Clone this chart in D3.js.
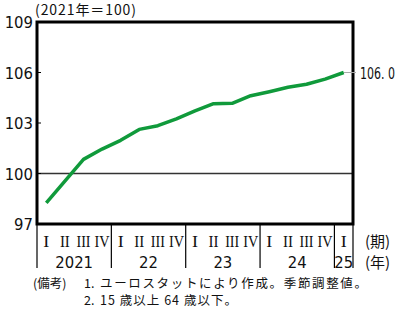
<!DOCTYPE html>
<meta charset="utf-8">
<style>
body { margin: 0; background: #fff; }
svg text { fill: #111; }
.num { font-family: "Liberation Sans Narrow", "DejaVu Sans Condensed", "DejaVu Sans", sans-serif; font-stretch: condensed; font-size: 16.5px; }
.roman { font-family: "Liberation Serif", serif; font-size: 16.5px; }
.jp { font-family: "Noto Sans CJK JP", sans-serif; font-size: 12.5px; }
</style>
<body>
<div id="chart"></div>
<script src="https://cdn.jsdelivr.net/npm/d3@7"></script>
<script>
// Employment index, quarterly, 2021 = 100
var quarters = ["2021Q1","2021Q2","2021Q3","2021Q4","2022Q1","2022Q2","2022Q3","2022Q4",
                "2023Q1","2023Q2","2023Q3","2023Q4","2024Q1","2024Q2","2024Q3","2024Q4","2025Q1"];
var values = [98.26, 99.55, 100.84, 101.45, 101.97, 102.62, 102.84, 103.25,
              103.72, 104.15, 104.17, 104.62, 104.86, 105.12, 105.3, 105.61, 106.0];
var romans = ["I", "II", "III", "IV"];
var yearLabels = ["2021", "22", "23", "24", "25"];
var yTicks = [97, 100, 103, 106, 109];

var W = 400, H = 309;
var pL = 37, pR = 353, pT = 22, pB = 224;

var svg = d3.select("#chart").append("svg")
    .attr("width", W).attr("height", H);

var x = d3.scaleBand().domain(quarters).range([pL, pR]);
var y = d3.scaleLinear().domain([97, 109]).range([pB, pT]);

// base line at 100
svg.append("line")
    .attr("x1", pL).attr("x2", pR)
    .attr("y1", y(100)).attr("y2", y(100))
    .attr("stroke", "#333").attr("stroke-width", 1.5);

// inner ticks on left axis
svg.selectAll("line.ytick").data(yTicks.slice(1, -1)).enter().append("line")
    .attr("class", "ytick")
    .attr("x1", pL).attr("x2", pL + 4)
    .attr("y1", function (d) { return y(d); })
    .attr("y2", function (d) { return y(d); })
    .attr("stroke", "#000").attr("stroke-width", 1);

// frame
svg.append("rect")
    .attr("x", pL).attr("y", pT)
    .attr("width", pR - pL).attr("height", pB - pT)
    .attr("fill", "none").attr("stroke", "#000").attr("stroke-width", 3);

// y labels
svg.selectAll("text.ylab").data(yTicks).enter().append("text")
    .attr("class", "num ylab")
    .attr("x", 33)
    .attr("y", function (d) { return y(d) + 6; })
    .attr("text-anchor", "end")
    .text(function (d) { return d; });

svg.append("text").attr("class", "jp")
    .attr("x", 35).attr("y", 15)
    .style("font-size", "14px")
    .attr("textLength", 101)
    .text("(2021年＝100)");

// line
var line = d3.line()
    .x(function (d, i) { return x(quarters[i]) + x.bandwidth() / 2; })
    .y(function (d) { return y(d); });

// leader to last value label
var lastX = x(quarters[quarters.length - 1]) + x.bandwidth() / 2;
var lastV = values[values.length - 1];
svg.append("line")
    .attr("x1", lastX).attr("x2", pR + 3)
    .attr("y1", y(lastV)).attr("y2", y(lastV))
    .attr("stroke", "#aaa").attr("stroke-width", 1);

svg.append("path")
    .datum(values)
    .attr("d", line)
    .attr("fill", "none")
    .attr("stroke", "#109a3b")
    .attr("stroke-width", 3.5)
    .attr("stroke-linejoin", "round");

svg.append("text").attr("class", "num")
    .attr("x", 360).attr("y", y(lastV) + 6)
    .attr("textLength", 35)
    .attr("lengthAdjust", "spacingAndGlyphs")
    .text(d3.format(".1f")(lastV).replace(".", ". "));

// x axis: roman quarter labels
svg.selectAll("text.q").data(quarters).enter().append("text")
    .attr("class", "roman q")
    .attr("x", function (d) { return x(d) + x.bandwidth() / 2; })
    .attr("y", 247)
    .attr("text-anchor", "middle")
    .attr("textLength", function (d, i) { return [6, 10, 14, 15][i % 4]; })
    .attr("lengthAdjust", "spacingAndGlyphs")
    .text(function (d, i) { return romans[i % 4]; });

// year separators
var seps = [];
for (var i = 0; i < quarters.length; i += 4) seps.push(x(quarters[i]));
seps.push(pR);
svg.selectAll("line.sep").data(seps).enter().append("line")
    .attr("class", "sep")
    .attr("x1", function (d) { return d; }).attr("x2", function (d) { return d; })
    .attr("y1", pB).attr("y2", 268)
    .attr("stroke", "#000").attr("stroke-width", 1.2);

svg.selectAll("text.yr").data(yearLabels).enter().append("text")
    .attr("class", "num yr")
    .attr("x", function (d, i) {
        var a = seps[i], b = seps[i + 1];
        return (a + b) / 2;
    })
    .attr("y", 268)
    .attr("text-anchor", "middle")
    .text(function (d) { return d; });

svg.append("text").attr("class", "jp").style("font-size", "15px")
    .attr("x", 365).attr("y", 247).text("(期)");
svg.append("text").attr("class", "jp").style("font-size", "15px")
    .attr("x", 365).attr("y", 268).text("(年)");

// notes
svg.append("text").attr("class", "jp")
    .attr("x", 33).attr("y", 288)
    .text("(備考)");
svg.append("text").attr("class", "jp")
    .attr("x", 84).attr("y", 288).text("1.");
svg.append("text").attr("class", "jp")
    .attr("x", 100).attr("y", 288).attr("textLength", 267)
    .text("ユーロスタットにより作成。季節調整値。");
svg.append("text").attr("class", "jp")
    .attr("x", 84).attr("y", 305).text("2.");
svg.append("text").attr("class", "jp")
    .attr("x", 100).attr("y", 305).attr("textLength", 137)
    .text("15 歳以上 64 歳以下。");
</script>
